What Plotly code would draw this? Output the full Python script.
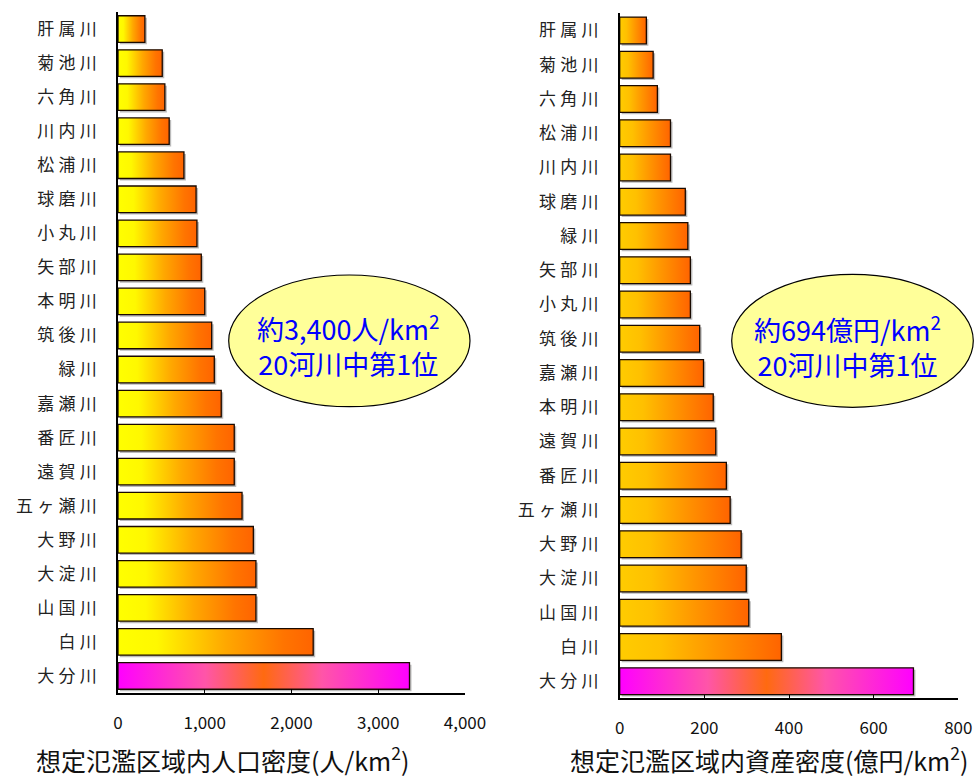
import plotly.graph_objects as go

W, H = 980, 778

# ---- data (top to bottom as in the picture) ----
pop_rivers = ["肝属川", "菊池川", "六角川", "川内川", "松浦川", "球磨川", "小丸川", "矢部川",
              "本明川", "筑後川", "緑川", "嘉瀬川", "番匠川", "遠賀川", "五ヶ瀬川", "大野川",
              "大淀川", "山国川", "白川", "大分川"]
pop_values = [310, 510, 540, 590, 760, 900, 910, 960, 1000, 1080, 1110, 1190, 1340, 1340,
              1430, 1560, 1590, 1590, 2250, 3360]

asset_rivers = ["肝属川", "菊池川", "六角川", "松浦川", "川内川", "球磨川", "緑川", "矢部川",
                "小丸川", "筑後川", "嘉瀬川", "本明川", "遠賀川", "番匠川", "五ヶ瀬川", "大野川",
                "大淀川", "山国川", "白川", "大分川"]
asset_values = [63, 79, 89, 120, 120, 155, 161, 167, 167, 189, 198, 221, 227, 252, 261,
                287, 299, 305, 382, 694]

pop_ticks = [0, 1000, 2000, 3000, 4000]
pop_ticktext = ["0", "1,000", "2,000", "3,000", "4,000"]
asset_ticks = [0, 200, 400, 600, 800]
asset_ticktext = ["0", "200", "400", "600", "800"]

highlight = "大分川"

left_title = "想定氾濫区域内人口密度(人/km<sup>2</sup>)"
right_title = "想定氾濫区域内資産密度(億円/km<sup>2</sup>)"
left_note = "約3,400人/km<sup>2</sup><br>20河川中第1位"
right_note = "約694億円/km<sup>2</sup><br>20河川中第1位"

# ---- styles ----
FONT = "Noto Sans CJK JP"
yellow_scale = [[0, "#FFFF00"], [0.2, "#FFF800"], [0.55, "#FFA800"], [0.85, "#FF7400"], [1, "#FF6400"]]
gold_scale = [[0, "#FFCC00"], [0.25, "#FFC000"], [0.6, "#FF9400"], [1, "#FF6400"]]
magenta_scale = [[0, "#FF00FF"], [0.3, "#FF55A8"], [0.5, "#FF6A10"], [0.7, "#FF55A8"], [1, "#FF00FF"]]

HALF = 0.39

fig = go.Figure()


def add_bars(rivers, values, xaxis, yaxis, base_scale, px_per_unit, px_per_row):
    n = len(rivers)
    sx = 2.0 / px_per_unit
    sy = 2.0 / px_per_row
    for k, (r, v) in enumerate(zip(rivers, values)):
        i = n - 1 - k
        # soft drop shadow
        fig.add_trace(go.Scatter(
            x=[sx, v + sx, v + sx, sx, sx],
            y=[i - HALF - sy, i - HALF - sy, i + HALF - sy, i + HALF - sy, i - HALF - sy],
            fill="toself", fillcolor="rgba(120,120,120,0.5)", mode="lines",
            line=dict(width=0), hoverinfo="skip", showlegend=False,
            xaxis=xaxis, yaxis=yaxis))
        scale = magenta_scale if r == highlight else base_scale
        fig.add_trace(go.Scatter(
            x=[0, v, v, 0, 0],
            y=[i - HALF, i - HALF, i + HALF, i + HALF, i - HALF],
            fill="toself", fillgradient=dict(type="horizontal", colorscale=scale),
            mode="lines", line=dict(color="#1a0a00", width=1.3),
            hoverinfo="skip", showlegend=False, xaxis=xaxis, yaxis=yaxis))


def px_x(p):
    return p / W


def px_y(p):
    return 1 - p / H


# left plot geometry (pixels)
L0, L1 = 118, 465
LT, LB = 12, 693
# right plot geometry (pixels)
R0, R1 = 619.7, 958.3
RT, RB = 13.3, 698.3

add_bars(pop_rivers, pop_values, "x", "y", yellow_scale, (L1 - L0) / 4000, (LB - LT) / 20)
add_bars(asset_rivers, asset_values, "x2", "y2", gold_scale, (R1 - R0) / 800, (RB - RT) / 20)

n = len(pop_rivers)
SP = "\u2005"
left_labels = [SP.join(list(r)) for r in pop_rivers]
right_labels = [SP.join(list(r)) for r in asset_rivers]

common_x = dict(showgrid=False, zeroline=False, showline=True, linecolor="black", linewidth=1.5,
                ticks="inside", ticklen=4, tickcolor="black", tickwidth=1, automargin=False,
                tickfont=dict(family=FONT, size=17, color="#111"), ticklabelstandoff=14)
common_y = dict(showgrid=False, zeroline=False, showline=True, linecolor="black", linewidth=1.5,
                ticks="", tickfont=dict(family=FONT, size=17, color="#222"), automargin=False,
                ticklabelstandoff=16, range=[-0.5, n - 0.5])

fig.update_layout(
    width=W, height=H, margin=dict(l=0, r=0, t=0, b=0, autoexpand=False),
    paper_bgcolor="white", plot_bgcolor="white", showlegend=False,
    xaxis=dict(domain=[px_x(L0), px_x(L1)], range=[0, 4000], anchor="y",
               tickvals=pop_ticks, ticktext=pop_ticktext, **common_x),
    yaxis=dict(domain=[px_y(LB), px_y(LT)], anchor="x",
               tickvals=list(range(n - 1, -1, -1)), ticktext=left_labels, **common_y),
    xaxis2=dict(domain=[px_x(R0), px_x(R1)], range=[0, 800], anchor="y2",
                tickvals=asset_ticks, ticktext=asset_ticktext, **common_x),
    yaxis2=dict(domain=[px_y(RB), px_y(RT)], anchor="x2",
                tickvals=list(range(n - 1, -1, -1)), ticktext=right_labels, **common_y),
)

# callout ellipses
fig.add_shape(type="circle", xref="paper", yref="paper",
              x0=px_x(228.7), x1=px_x(470), y0=px_y(406.7), y1=px_y(275),
              fillcolor="#FFFF99", line=dict(color="black", width=1.2), layer="above")
fig.add_shape(type="circle", xref="paper", yref="paper",
              x0=px_x(731.7), x1=px_x(973.3), y0=px_y(407.3), y1=px_y(274.3),
              fillcolor="#FFFF99", line=dict(color="black", width=1.2), layer="above")

note_font = dict(family=FONT, size=27, color="#0000FF")
fig.add_annotation(text=left_note, xref="paper", yref="paper", x=px_x(348), y=px_y(345),
                   xanchor="center", yanchor="middle", showarrow=False, font=note_font)
fig.add_annotation(text=right_note, xref="paper", yref="paper", x=px_x(847), y=px_y(346),
                   xanchor="center", yanchor="middle", showarrow=False, font=note_font)

title_font = dict(family=FONT, size=25, color="#111")
fig.add_annotation(text=left_title, xref="paper", yref="paper", x=px_x(222), y=px_y(759),
                   xanchor="center", yanchor="middle", showarrow=False, font=title_font)
fig.add_annotation(text=right_title, xref="paper", yref="paper", x=px_x(769), y=px_y(759),
                   xanchor="center", yanchor="middle", showarrow=False, font=title_font)

fig.write_html("out.html")
